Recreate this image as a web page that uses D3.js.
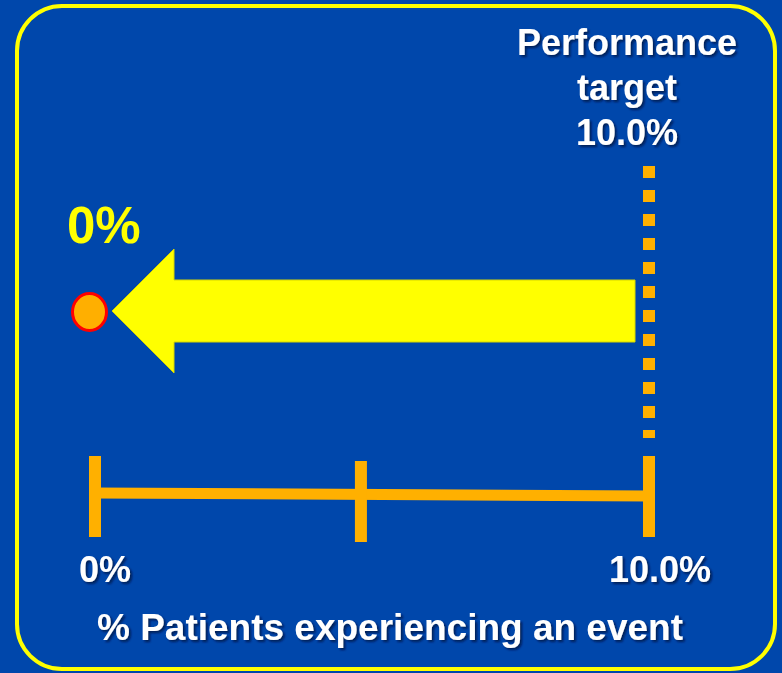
<!DOCTYPE html>
<html>
<head>
<meta charset="utf-8">
<script src="https://cdn.jsdelivr.net/npm/d3@7"></script>
<style>
  html, body { margin: 0; padding: 0; background: #0047AB; }
  svg { display: block; }
  text { font-family: "Liberation Sans", Arial, sans-serif; font-weight: bold; }
</style>
</head>
<body>
<svg id="chart" width="782" height="673"></svg>
<script>
// values
var axisTicks = [0, 4.8, 10];
var labelTicks = [0, 10];
var labelTexts = ['0%', '10.0%'];
var targetValue = 10;
var observedValue = 0;
var observedLabel = '0%';
var targetLines = ['Performance', 'target', '10.0%'];
var axisTitle = '% Patients experiencing an event';

var W = 782, H = 673;
var svg = d3.select('#chart');

// shadow for white text
var defs = svg.append('defs');
var f = defs.append('filter').attr('id', 'shadow')
  .attr('x', '-10%').attr('y', '-20%').attr('width', '130%').attr('height', '150%');
f.append('feDropShadow').attr('dx', 2).attr('dy', 2).attr('stdDeviation', 1)
  .attr('flood-color', '#00153d').attr('flood-opacity', 0.75);

// background + rounded frame
svg.append('rect').attr('width', W).attr('height', H).attr('fill', '#0047AB');
svg.append('rect')
  .attr('x', 17).attr('y', 6).attr('width', 758).attr('height', 663)
  .attr('rx', 45).attr('ry', 45)
  .attr('fill', 'none').attr('stroke', '#FFFF00').attr('stroke-width', 4);

var x = d3.scaleLinear().domain([0, 10]).range([95, 649]);
var axisY0 = 493, axisY1 = 496;
var axisOrange = '#FFB000';

// axis line (slightly tilted like the original)
svg.append('line')
  .attr('x1', x(0)).attr('x2', x(10))
  .attr('y1', axisY0).attr('y2', axisY1)
  .attr('stroke', axisOrange).attr('stroke-width', 11);

// ticks
svg.selectAll('.tick').data(axisTicks).enter()
  .append('rect').attr('class', 'tick')
  .attr('x', function(d){ return x(d) - 6; })
  .attr('y', function(d){ return d === 0 || d === 10 ? 456 : 461; })
  .attr('width', 12).attr('height', 81)
  .attr('fill', axisOrange);

// tick labels
svg.selectAll('.tlabel').data(labelTicks).enter()
  .append('text').attr('class', 'tlabel')
  .attr('x', function(d){ return x(d) + (d === 0 ? 10 : 11); })
  .attr('y', 582)
  .attr('text-anchor', 'middle')
  .attr('font-size', 36)
  .attr('fill', '#fff')
  .attr('filter', 'url(#shadow)')
  .text(function(d, i){ return labelTexts[i]; });

// axis title
svg.append('text')
  .attr('x', 390).attr('y', 640)
  .attr('text-anchor', 'middle')
  .attr('font-size', 37)
  .attr('fill', '#fff')
  .attr('filter', 'url(#shadow)')
  .text(axisTitle);

// performance target dotted line
svg.append('line')
  .attr('x1', x(targetValue)).attr('x2', x(targetValue))
  .attr('y1', 166).attr('y2', 438)
  .attr('stroke', axisOrange).attr('stroke-width', 12)
  .attr('stroke-dasharray', '12,12');

var tl = svg.append('text')
  .attr('text-anchor', 'middle')
  .attr('font-size', 36)
  .attr('fill', '#fff')
  .attr('filter', 'url(#shadow)');
tl.selectAll('tspan').data(targetLines).enter()
  .append('tspan')
  .attr('x', x(targetValue) - 22)
  .attr('y', function(d, i){ return 55 + i * 45; })
  .text(function(d){ return d; });

// arrow from target toward observed value
var cy = 311;
var tipX = x(observedValue) + 17, headX = tipX + 62, endX = x(targetValue) - 14;
var arrow = d3.path();
arrow.moveTo(tipX, cy);
arrow.lineTo(headX, cy - 62);
arrow.lineTo(headX, cy - 31);
arrow.lineTo(endX, cy - 31);
arrow.lineTo(endX, cy + 31);
arrow.lineTo(headX, cy + 31);
arrow.lineTo(headX, cy + 62);
arrow.closePath();
svg.append('path').attr('d', arrow.toString())
  .attr('fill', '#FFFF00').attr('stroke', '#d6d600').attr('stroke-width', 1);

// observed point
svg.append('ellipse')
  .attr('cx', x(observedValue) - 5.5).attr('cy', cy + 1)
  .attr('rx', 17).attr('ry', 18.5)
  .attr('fill', '#FFAF00').attr('stroke', '#FF0000').attr('stroke-width', 3);

svg.append('text')
  .attr('x', 67).attr('y', 243)
  .attr('font-size', 51)
  .attr('fill', '#FFFF00')
  .text(observedLabel);
</script>
</body>
</html>
